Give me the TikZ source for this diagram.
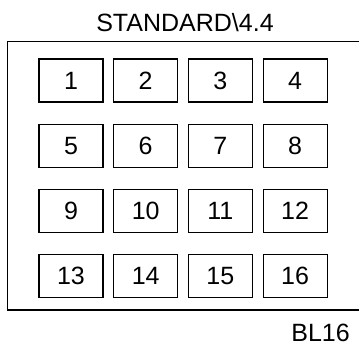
\documentclass[tikz,border=0pt]{standalone}
\usepackage{fontspec}
\setmainfont{Liberation Sans}
\usetikzlibrary{positioning}

\begin{document}
\begin{tikzpicture}[x=1pt, y=1pt, node distance=21pt and 9.5pt,
    every node/.style={font=\fontsize{25}{28}\selectfont, inner sep=0pt},
    cell/.style={draw, line width=1.2pt, minimum width=64pt, minimum height=43pt}]
\useasboundingbox (0,0) rectangle (359,347);
% open frame, right side runs off the page
\draw[line width=1.3pt] (359,305.5) -- (7.5,305.5) -- (7.5,37) -- (359,37);
\node[anchor=base] (title) at (185,315) {STANDARD\textbackslash 4.4};
\node[anchor=base east] (tag) at (350,5) {BL16};
% block cells
\node[cell] (c1) at (71,266.5) {1};
\node[cell, right=of c1] (c2) {2};
\node[cell, right=of c2] (c3) {3};
\node[cell, right=of c3] (c4) {4};
\node[cell, below=of c1] (c5) {5};
\node[cell, right=of c5] (c6) {6};
\node[cell, right=of c6] (c7) {7};
\node[cell, right=of c7] (c8) {8};
\node[cell, below=of c5] (c9) {9};
\node[cell, right=of c9] (c10) {10};
\node[cell, right=of c10] (c11) {11};
\node[cell, right=of c11] (c12) {12};
\node[cell, below=of c9] (c13) {13};
\node[cell, right=of c13] (c14) {14};
\node[cell, right=of c14] (c15) {15};
\node[cell, right=of c15] (c16) {16};
\end{tikzpicture}
\end{document}
